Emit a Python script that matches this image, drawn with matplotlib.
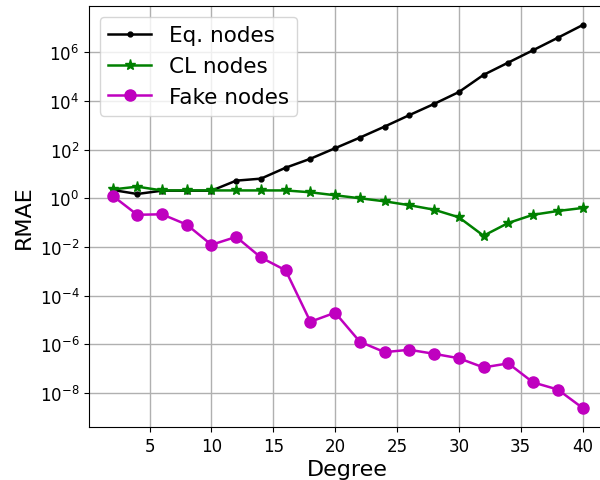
import matplotlib
matplotlib.use("Agg")
import matplotlib.pyplot as plt

degree = [2, 4, 6, 8, 10, 12, 14, 16, 18, 20, 22, 24, 26, 28, 30, 32, 34, 36, 38, 40]
eq_nodes = [2.2, 1.5, 2.05, 2.05, 2.05, 5.3, 6.4, 18, 42, 114, 310, 880, 2600, 7500,
            2.3e4, 1.17e5, 3.75e5, 1.2e6, 3.9e6, 1.29e7]
cl_nodes = [2.3, 3.0, 2.1, 2.1, 2.1, 2.1, 2.1, 2.1, 1.76, 1.33, 1.0, 0.75, 0.52, 0.34,
            0.166, 0.029, 0.097, 0.21, 0.30, 0.40]
fake_nodes = [1.28, 0.21, 0.22, 0.083, 0.0123, 0.026, 0.0037, 0.0011, 8.5e-6, 2.0e-5,
              1.28e-6, 4.8e-7, 6.0e-7, 4.1e-7, 2.7e-7, 1.13e-7, 1.66e-7, 2.75e-8, 1.4e-8, 2.47e-9]

fig = plt.figure(figsize=(6, 4.81), dpi=100)
ax = fig.add_axes([89/600, 1 - 428/481, (606 - 89)/600, (428 - 7)/481])

ax.semilogy(degree, eq_nodes, 'k.-', lw=1.8, ms=7, label='Eq. nodes')
ax.semilogy(degree, cl_nodes, 'g*-', lw=1.8, ms=8, label='CL nodes')
ax.semilogy(degree, fake_nodes, 'mo-', lw=1.8, ms=8, label='Fake nodes')

ax.set_xticks([5, 10, 15, 20, 25, 30, 35, 40])
ax.set_yticks([1e-8, 1e-6, 1e-4, 1e-2, 1e0, 1e2, 1e4, 1e6])
ax.minorticks_off()
ax.tick_params(labelsize=12)
ax.grid(True, color='#b0b0b0', lw=1)
ax.set_xlabel('Degree', fontsize=16, labelpad=3)
ax.set_ylabel('RMAE', fontsize=16)
ax.legend(loc='upper left', fontsize=15.5)

fig.savefig('out.png', dpi=100)
